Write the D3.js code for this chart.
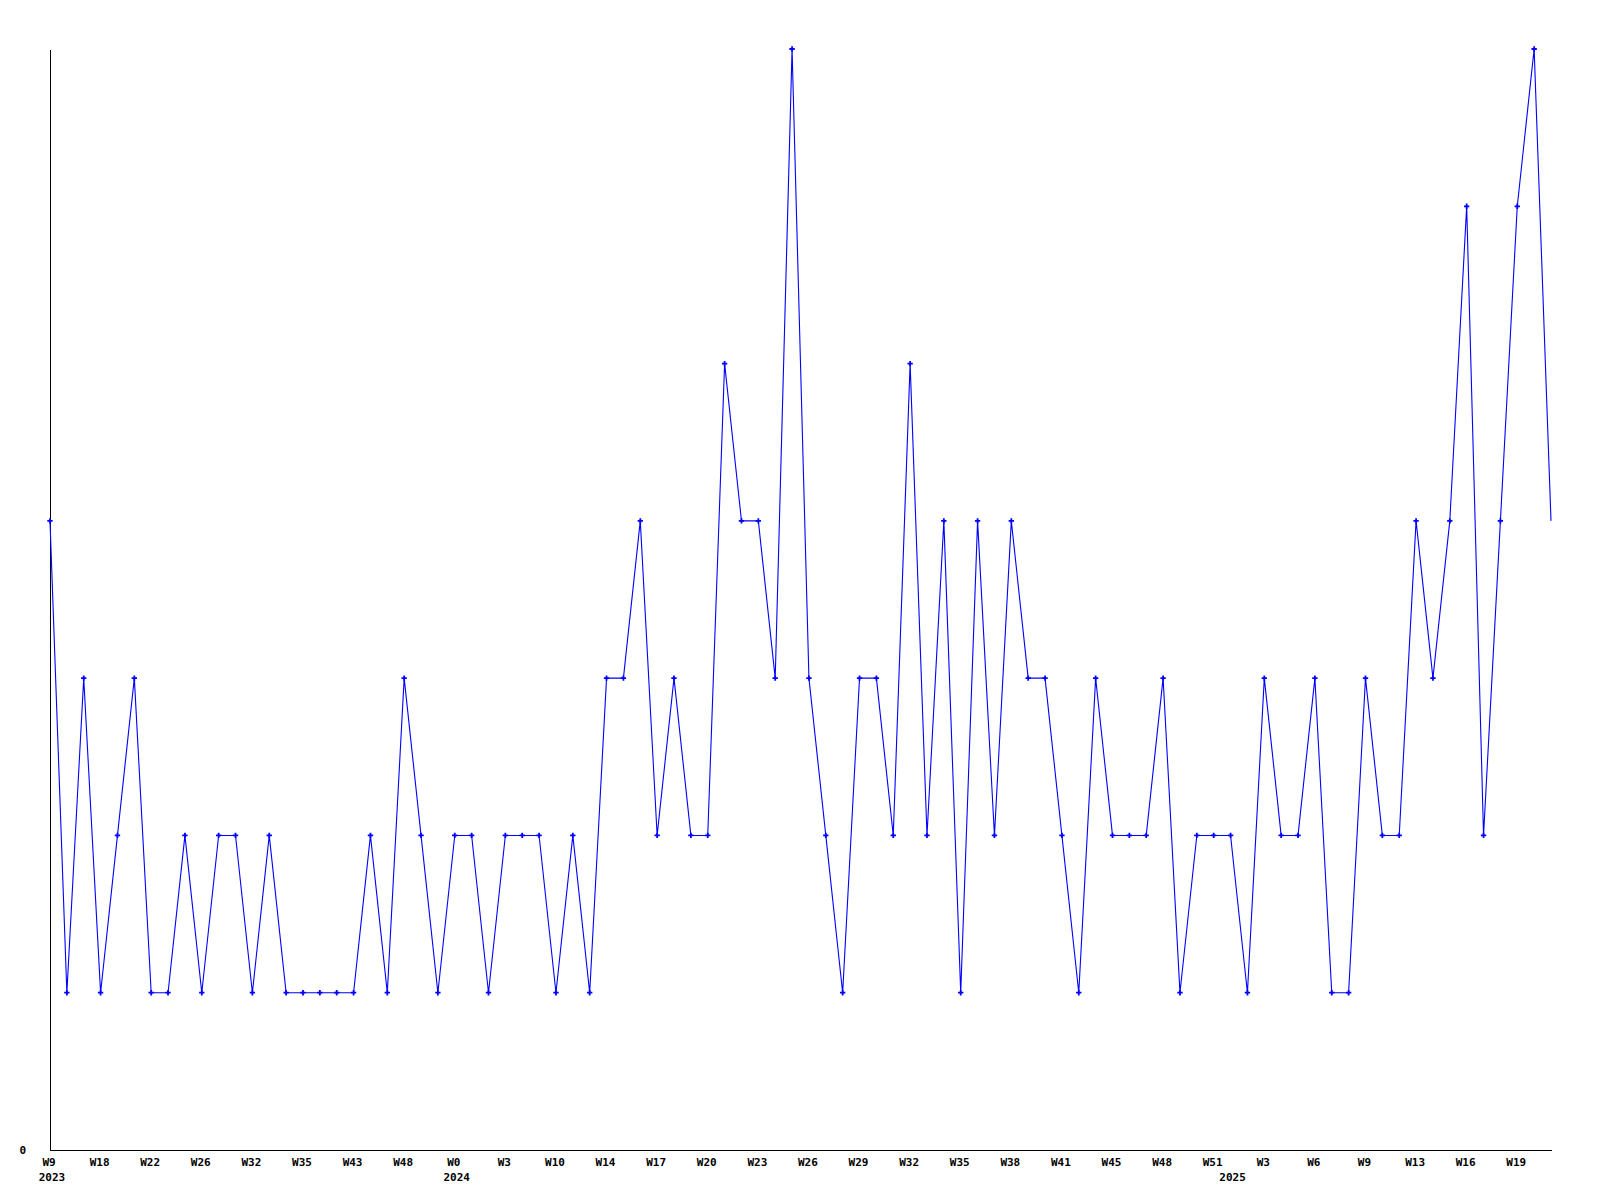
<!DOCTYPE html>
<html>
<head>
<meta charset="utf-8">
<script src="https://cdn.jsdelivr.net/npm/d3@7"></script>
<style>
  html, body { margin: 0; padding: 0; background: #fff; }
  svg { display: block; }
  text { font-family: "DejaVu Sans Mono", "Liberation Mono", monospace; font-weight: bold; font-size: 11px; fill: #000; }
</style>
</head>
<body>
<script>
// Weekly counts (90 points)
const values = [
  4,1,3,1,2,3,1,1,2,1,
  2,2,1,2,1,1,1,1,1,2,
  1,3,2,1,2,2,1,2,2,2,
  1,2,1,3,3,4,2,3,2,2,
  5,4,4,3,7,3,2,1,3,3,
  2,5,2,4,1,4,2,4,3,3,
  2,1,3,2,2,2,3,1,2,2,
  2,1,3,2,2,3,1,1,3,2,
  2,4,3,4,6,2,4,6,7,4
];
// Tick labels every 3rd point
const tickIndex = [0,3,6,9,12,15,18,21,24,27,30,33,36,39,42,45,48,51,54,57,60,63,66,69,72,75,78,81,84,87];
const tickLabels = ["W9","W18","W22","W26","W32","W35","W43","W48","W0","W3","W10","W14","W17","W20","W23","W26","W29","W32","W35","W38","W41","W45","W48","W51","W3","W6","W9","W13","W16","W19"];
const yearIndex = [0, 24, 70];
const yearLabels = ["2023", "2024", "2025"];
const yTickValues = [0];

const W = 1600, H = 1200;
const mLeft = 50, mRight = 1551, mTop = 49, mBottom = 1150;

const svg = d3.select("body").append("svg").attr("width", W).attr("height", H);

const x = d3.scaleLinear().domain([0, values.length - 1]).range([mLeft, mRight]);
const y = d3.scaleLinear().domain([0, 7]).range([mBottom, mTop]);

// axes lines
svg.append("line").attr("x1", mLeft + 0.5).attr("x2", mLeft + 0.5).attr("y1", 50).attr("y2", mBottom + 0.5)
  .attr("stroke", "#000").attr("stroke-width", 1).attr("shape-rendering", "crispEdges");
svg.append("line").attr("x1", mLeft).attr("x2", mRight + 1).attr("y1", mBottom + 0.5).attr("y2", mBottom + 0.5)
  .attr("stroke", "#000").attr("stroke-width", 1).attr("shape-rendering", "crispEdges");

// y labels
svg.selectAll("text.ylab").data(yTickValues).enter().append("text")
  .attr("class", "ylab")
  .attr("x", 26).attr("y", d => y(d) + 1)
  .attr("text-anchor", "end").attr("dominant-baseline", "middle")
  .text(d => d);

// x labels
svg.selectAll("text.xlab").data(tickIndex).enter().append("text")
  .attr("class", "xlab")
  .attr("x", (d, i) => x(d) - 1).attr("y", 1163)
  .attr("text-anchor", "middle").attr("dominant-baseline", "middle")
  .text((d, i) => tickLabels[i]);

svg.selectAll("text.year").data(yearIndex).enter().append("text")
  .attr("class", "year")
  .attr("x", d => x(d) + 2).attr("y", 1178)
  .attr("text-anchor", "middle").attr("dominant-baseline", "middle")
  .text((d, i) => yearLabels[i]);

// line
const line = d3.line().x((d, i) => x(i)).y(d => y(d));
svg.append("path").datum(values)
  .attr("d", line)
  .attr("fill", "none").attr("stroke", "#0000ff").attr("stroke-width", 1.1);

// markers (all but last)
const sym = d3.symbol().type(d3.symbolCross).size(16);
svg.selectAll("path.mk").data(values.slice(0, values.length - 1)).enter().append("path")
  .attr("class", "mk")
  .attr("transform", (d, i) => `translate(${x(i)},${y(d)})`)
  .attr("d", sym)
  .attr("fill", "#0000ff");
</script>
</body>
</html>
